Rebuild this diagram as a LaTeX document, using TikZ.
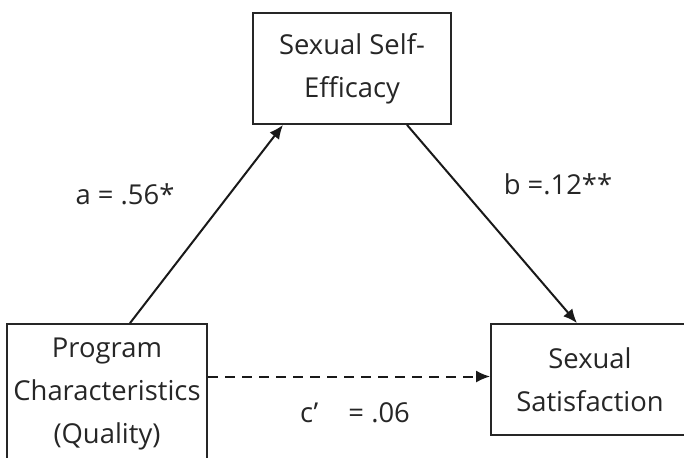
\documentclass[tikz,border=0pt]{standalone}
\usepackage{fontspec}
\setmainfont{Open Sans}
\usetikzlibrary{arrows.meta,positioning,calc}

\begin{document}
\begin{tikzpicture}[
    x=0.5pt, y=-0.5pt,
    var/.style={draw=black!85, line width=0.9pt, rectangle, minimum width=99pt, align=center, text=black!85, font=\fontsize{13.7}{21.5}\selectfont},
    effect/.style={-{Latex[length=7pt,width=6pt]}, line width=1pt, draw=black!90},
    coef/.style={anchor=base, text=black!85, font=\fontsize{13.7}{16}\selectfont}
]
    \useasboundingbox (0,0) rectangle (684,457);

    \node[var, minimum height=55.5pt] (sse) at (352,68.5) {Sexual Self-\\Efficacy};
    \node[var, minimum height=70pt] (prog) at (107,394) {Program\\Characteristics\\(Quality)};
    \node[var, minimum height=55.5pt] (sat) at (590,379.5) {Sexual\\Satisfaction};

    \draw[effect] ([xshift=11.5pt]prog.north) -- ([xshift=-34.5pt]sse.south);
    \draw[effect] ([xshift=27.5pt]sse.south) -- ([xshift=-6.5pt]sat.north);
    \draw[effect, dash pattern=on 5pt off 3.5pt] ([yshift=1.5pt]prog.east |- sat.west) -- ([yshift=1.5pt]sat.west);

    \node[coef] (la) at (125,204) {a = .56*};
    \node[coef] (lb) at (558,194) {b =.12**};
    \node[coef] (lc) at (355,422) {c’\hspace{1.1em}= .06};
\end{tikzpicture}
\end{document}
